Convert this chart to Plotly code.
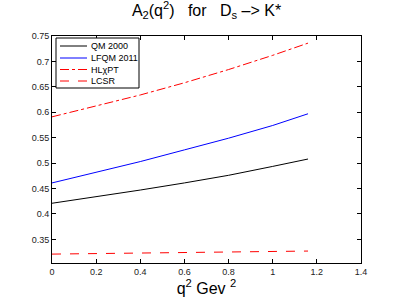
import plotly.graph_objects as go

q2 = [0, 0.2, 0.4, 0.6, 0.8, 1.0, 1.16]
qm2000 = [0.421, 0.4335, 0.447, 0.461, 0.476, 0.4935, 0.508]
lfqm2011 = [0.461, 0.482, 0.503, 0.526, 0.549, 0.574, 0.597]
hlchpt = [0.591, 0.612, 0.634, 0.658, 0.684, 0.712, 0.736]
lcsr = [0.321, 0.322, 0.323, 0.324, 0.325, 0.326, 0.327]

series_names = ["QM 2000", "LFQM 2011", "HLχPT", "LCSR"]
series_values = [qm2000, lfqm2011, hlchpt, lcsr]
series_colors = ["#000000", "#0000ff", "#ff0000", "#ff0000"]
series_dash = ["solid", "solid", "dashdot", "dash"]

xticks = [0, 0.2, 0.4, 0.6, 0.8, 1, 1.2, 1.4]
xticklabels = ["0", "0.2", "0.4", "0.6", "0.8", "1", "1.2", "1.4"]
yticks = [0.35, 0.4, 0.45, 0.5, 0.55, 0.6, 0.65, 0.7, 0.75]
yticklabels = ["0.35", "0.4", "0.45", "0.5", "0.55", "0.6", "0.65", "0.7", "0.75"]

FONT = "Liberation Sans, Arial, sans-serif"
W, H = 399, 300
ML, MR, MT, MB = 52, 38, 36, 37
PW, PH = W - ML - MR, H - MT - MB


def px(x):
    return (x - ML) / PW


def py(y):
    return (H - MB - y) / PH


fig = go.Figure()
for name, vals, col, dash in zip(series_names, series_values, series_colors, series_dash):
    fig.add_trace(go.Scatter(x=q2, y=vals, mode="lines", name=name,
                             line=dict(color=col, width=1, dash=dash)))

# custom compact legend box (matlab style)
shapes = [dict(type="rect", xref="paper", yref="paper",
               x0=px(56), x1=px(139), y0=py(88), y1=py(38),
               line=dict(color="#000000", width=1), fillcolor="white", layer="above")]
annotations = []
rows = [46, 58, 69.5, 81]
for name, col, dash, ry in zip(series_names, series_colors, series_dash, rows):
    shapes.append(dict(type="line", xref="paper", yref="paper",
                       x0=px(60), x1=px(87), y0=py(ry), y1=py(ry),
                       line=dict(color=col, width=1, dash=dash), layer="above"))
    annotations.append(dict(text=name, xref="paper", yref="paper", x=px(89), y=py(ry),
                            xanchor="left", yanchor="middle", showarrow=False,
                            font=dict(family=FONT, size=9, color="#000000")))

axis_common = dict(showgrid=False, zeroline=False, showline=True, mirror="ticks",
                   linecolor="#000000", linewidth=1, ticks="inside", ticklen=4,
                   tickcolor="#000000", automargin=False,
                   tickfont=dict(family=FONT, size=9, color="#222222"))

fig.update_layout(
    width=W, height=H,
    margin=dict(l=ML, r=MR, t=MT, b=MB),
    paper_bgcolor="white", plot_bgcolor="white",
    title=dict(text="A<sub>2</sub>(q<sup>2</sup>)\u00a0\u00a0\u00a0for\u00a0\u00a0\u00a0D<sub>s</sub> \u2013> K*",
               xref="paper", x=0.5, xanchor="center", y=0.985, yanchor="top",
               font=dict(family=FONT, size=16, color="#000000")),
    xaxis=dict(range=[0, 1.4], tickvals=xticks, ticktext=xticklabels,
               title=dict(text="q<sup>2</sup> Gev <sup>2</sup>", standoff=2,
                          font=dict(family=FONT, size=16, color="#000000")),
               **axis_common),
    yaxis=dict(range=[0.3035, 0.75], tickvals=yticks, ticktext=yticklabels, **axis_common),
    shapes=shapes,
    annotations=annotations,
    showlegend=False,
)

fig.write_html("out.html", config={"displayModeBar": False},
               post_script="document.body.style.margin='0';")
